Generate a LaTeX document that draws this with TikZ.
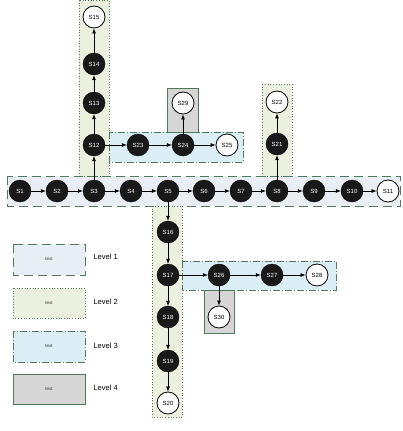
\documentclass[tikz,border=0pt]{standalone}
\usepackage{fontspec}
\setmainfont{Liberation Sans}
\usetikzlibrary{arrows.meta}
\definecolor{bordgreen}{HTML}{4F7A5A}
\definecolor{lvone}{HTML}{E9EEF4}
\definecolor{lvtwo}{HTML}{EBF1DE}
\definecolor{lvthree}{HTML}{DCEEF5}
\definecolor{lvfour}{HTML}{D6D6D6}
\tikzset{
  blk/.style={circle,fill=black!90,draw=black,text=white,minimum size=22pt,inner sep=0pt,font=\fontsize{6}{7}\selectfont},
  wht/.style={circle,fill=white,draw=black,line width=0.8pt,text=black,minimum size=22pt,inner sep=0pt,font=\fontsize{6}{7}\selectfont},
  lone/.style={fill=lvone,draw=bordgreen,line width=0.8pt,dash pattern=on 9pt off 5pt},
  ltwo/.style={fill=lvtwo,draw=bordgreen,line width=0.7pt,dotted},
  lthree/.style={fill=lvthree,draw=bordgreen,line width=0.7pt,dash pattern=on 7pt off 2pt on 1pt off 2pt},
  lfour/.style={fill=lvfour,draw=bordgreen,line width=0.8pt},
  conn/.style={-{Latex[length=5pt,width=4pt]},line width=0.7pt},
  lab/.style={font=\fontsize{7.5}{8}\selectfont,anchor=west},
  tiny/.style={font=\fontsize{4.5}{5}\selectfont,text=black!80}
}
\begin{document}
\begin{tikzpicture}[x=1pt,y=-1pt]
\useasboundingbox (0,0) rectangle (402,431);
% boxes
\draw[lone] (7,176) rectangle (400,206);
\draw[ltwo] (79,0) rectangle (109,176);
\draw[ltwo] (262,84) rectangle (292,176);
\draw[ltwo] (152,206) rectangle (182,417);
\draw[lthree] (109,132) rectangle (243,162);
\draw[lthree] (182,261) rectangle (336,290);
\draw[lfour] (167,88) rectangle (198,132);
\draw[lfour] (204,290) rectangle (234,333);
% main row
\node[blk] (s1) at (20,191) {S1};
\node[blk] (s2) at (57,191) {S2};
\node[blk] (s3) at (94,191) {S3};
\node[blk] (s4) at (131,191) {S4};
\node[blk] (s5) at (168,191) {S5};
\node[blk] (s6) at (204,191) {S6};
\node[blk] (s7) at (241,191) {S7};
\node[blk] (s8) at (277,191) {S8};
\node[blk] (s9) at (314,191) {S9};
\node[blk] (s10) at (352,191) {S10};
\node[wht] (s11) at (388,191) {S11};
% S3 column
\node[blk] (s12) at (94,145) {S12};
\node[blk] (s13) at (94,103) {S13};
\node[blk] (s14) at (94,64) {S14};
\node[wht] (s15) at (94,17) {S15};
\node[blk] (s23) at (138,145) {S23};
\node[blk] (s24) at (183,145) {S24};
\node[wht] (s25) at (227,145) {S25};
\node[wht] (s29) at (183,103) {S29};
% S8 column
\node[blk] (s21) at (277,144) {S21};
\node[wht] (s22) at (277,102) {S22};
% S5 column
\node[blk] (s16) at (168,232) {S16};
\node[blk] (s17) at (168,275) {S17};
\node[blk] (s18) at (168,317) {S18};
\node[blk] (s19) at (168,361) {S19};
\node[wht] (s20) at (168,403) {S20};
\node[blk] (s26) at (219,275) {S26};
\node[blk] (s27) at (272,275) {S27};
\node[wht] (s28) at (317,275) {S28};
\node[wht] (s30) at (219,317) {S30};
% connectors
\foreach \a/\b in {s1/s2,s2/s3,s3/s4,s4/s5,s5/s6,s6/s7,s7/s8,s8/s9,s9/s10,s10/s11,
  s3/s12,s12/s13,s13/s14,s14/s15,s12/s23,s23/s24,s24/s25,s24/s29,
  s8/s21,s21/s22,s5/s16,s16/s17,s17/s18,s18/s19,s19/s20,s17/s26,s26/s27,s27/s28,s26/s30}
  \draw[conn] (\a) -- (\b);
% legend
\draw[lone] (13,244) rectangle (85,275);
\node[tiny] (t1) at (49,259.5) {text};
\node[lab] (l1) at (90,257) {Level 1};
\draw[ltwo] (13,288) rectangle (85,318);
\node[tiny] (t2) at (49,303) {text};
\node[lab] (l2) at (90,302) {Level 2};
\draw[lthree] (13,331) rectangle (85,362);
\node[tiny] (t3) at (49,346.5) {text};
\node[lab] (l3) at (90,346) {Level 3};
\draw[lfour] (13,374) rectangle (85,404);
\node[tiny] (t4) at (49,389) {text};
\node[lab] (l4) at (90,388) {Level 4};
\end{tikzpicture}
\end{document}
